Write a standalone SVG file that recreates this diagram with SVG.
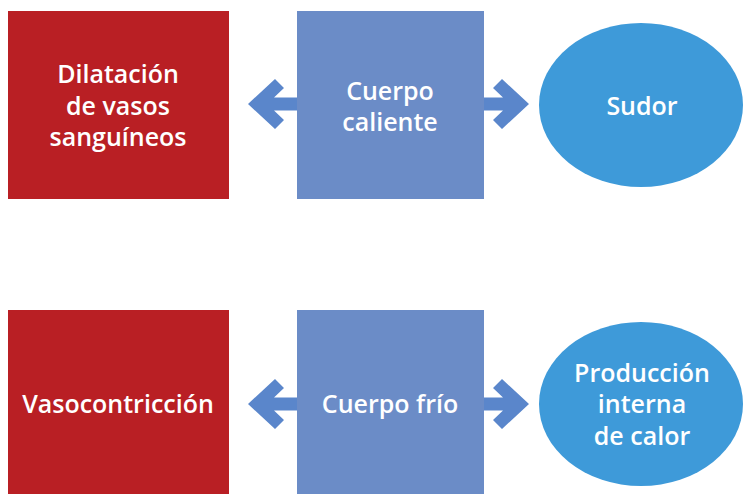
<svg xmlns="http://www.w3.org/2000/svg" width="743" height="494" viewBox="0 0 743 494">
  <style>
    .red { fill: #B91F24; }
    .box { fill: #6B8CC7; }
    .ell { fill: #3E9AD9; }
    .arrow { fill: #5A86CB; }
    .t { font-family: "Open Sans", "Liberation Sans", sans-serif; font-weight: 600; font-size: 25px; fill: #FFFFFF; text-anchor: middle; }
  </style>
  <rect width="743" height="494" fill="#FFFFFF"/>
  <g id="connectors">
    <path class="arrow" d="M248,104 L275,79 L284,88 L274,97.5 L297,97.5 L297,110.5 L274,110.5 L284,120 L275,129 Z"/>
    <path class="arrow" d="M529,104 L502,79 L493,88 L503,97.5 L484,97.5 L484,110.5 L503,110.5 L493,120 L502,129 Z"/>
    <path class="arrow" d="M248,404 L275,379 L284,388 L274,397.5 L297,397.5 L297,410.5 L274,410.5 L284,420 L275,429 Z"/>
    <path class="arrow" d="M529,404 L502,379 L493,388 L503,397.5 L484,397.5 L484,410.5 L503,410.5 L493,420 L502,429 Z"/>
  </g>
  <g id="dilatacion">
    <rect class="red" x="8" y="11" width="221" height="188"/>
    <text class="t" x="118" y="83">Dilatación</text>
    <text class="t" x="118" y="115">de vasos</text>
    <text class="t" x="118" y="146">sanguíneos</text>
  </g>
  <g id="cuerpo-caliente">
    <rect class="box" x="297" y="11" width="187" height="188"/>
    <text class="t" x="390" y="100">Cuerpo</text>
    <text class="t" x="390" y="131">caliente</text>
  </g>
  <g id="sudor">
    <ellipse class="ell" cx="641" cy="105" rx="102" ry="82"/>
    <text class="t" x="642" y="115">Sudor</text>
  </g>
  <g id="vasocontriccion">
    <rect class="red" x="8" y="310" width="221" height="184"/>
    <text class="t" x="118" y="413">Vasocontricción</text>
  </g>
  <g id="cuerpo-frio">
    <rect class="box" x="297" y="310" width="187" height="184"/>
    <text class="t" x="390" y="413">Cuerpo frío</text>
  </g>
  <g id="produccion">
    <ellipse class="ell" cx="641" cy="404" rx="102" ry="82"/>
    <text class="t" x="642" y="382">Producción</text>
    <text class="t" x="642" y="413">interna</text>
    <text class="t" x="642" y="445">de calor</text>
  </g>
</svg>
